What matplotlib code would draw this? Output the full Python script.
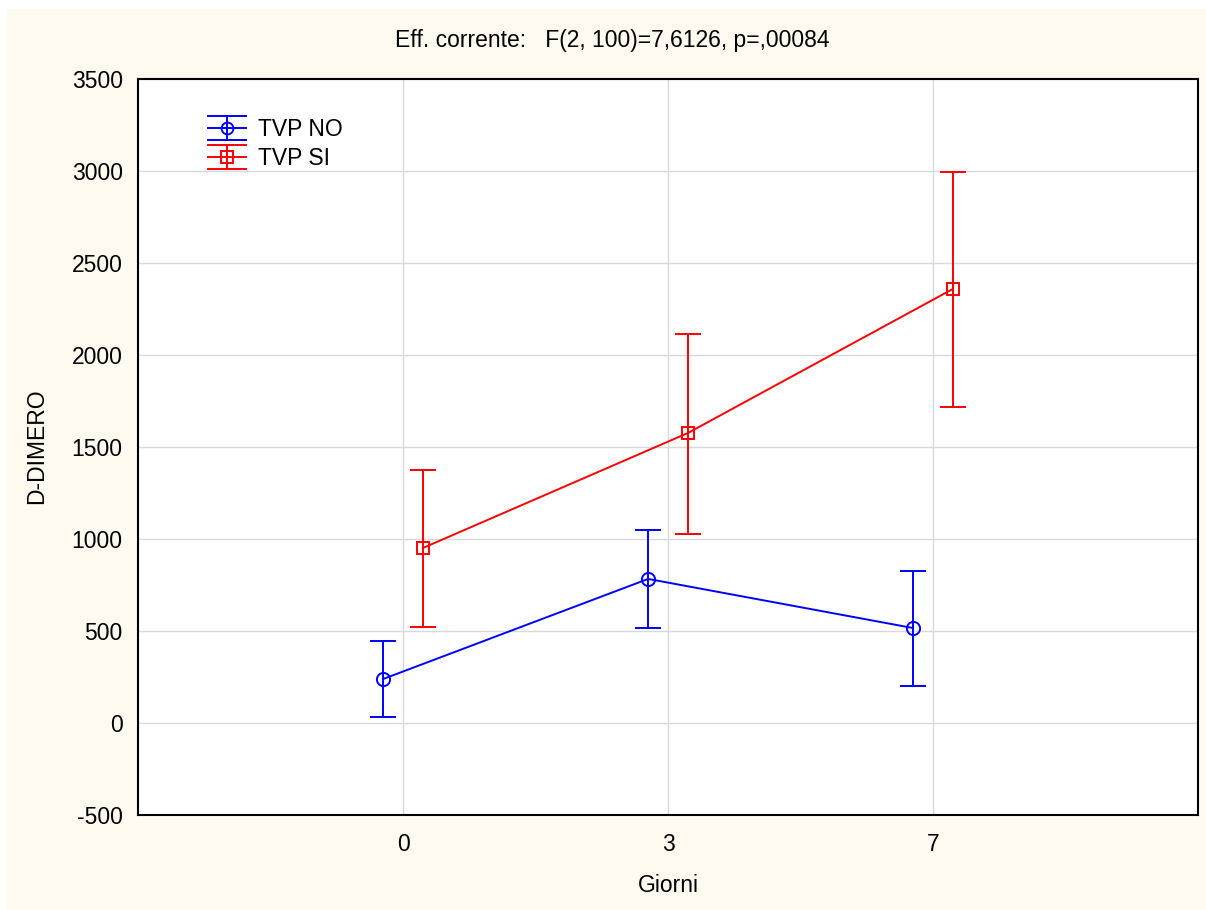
import matplotlib.pyplot as plt
from matplotlib.legend_handler import HandlerBase
from matplotlib.lines import Line2D
from matplotlib.patches import Rectangle

plt.rcParams['font.family'] = ['Liberation Sans', 'DejaVu Sans']
plt.rcParams['axes.unicode_minus'] = False

# --- data ---
giorni = ['0', '3', '7']
no_mean = [239, 783, 516]
no_low = [33, 516, 201]
no_high = [446, 1049, 826]
si_mean = [951, 1576, 2359]
si_low = [522, 1027, 1717]
si_high = [1375, 2114, 2995]

BLUE = '#0000ff'
RED = '#ff0000'
CREAM = '#fffaf0'
FS = 16.5


class ErrHandler(HandlerBase):
    # legend handle: line + marker with error bar and wide caps
    def __init__(self, color, marker):
        super().__init__()
        self.color = color
        self.marker = marker

    def create_artists(self, legend, orig, x0, y0, w, h, fs, trans):
        cy = y0 + h / 2
        d = 12 * 72 / 100
        arts = []
        for dy in (-d, 0, d):
            arts.append(Line2D([x0, x0 + w], [cy + dy, cy + dy], color=self.color, lw=1.4, transform=trans))
        arts.append(Line2D([x0 + w / 2, x0 + w / 2], [cy - d, cy + d], color=self.color, lw=1.4, transform=trans))
        arts.append(Line2D([x0 + w / 2], [cy], marker=self.marker, ms=8.5, mfc='none', mec=self.color, mew=1.4,
                           linestyle='none', transform=trans))
        return arts


fig = plt.figure(figsize=(12.06, 9.10), dpi=100)
fig.patch.set_facecolor('white')
fig.patches.append(Rectangle((7 / 1206, 0), 1, 1 - 9 / 910, transform=fig.transFigure,
                             facecolor=CREAM, edgecolor='none', zorder=-10))
ax = fig.add_axes([138 / 1206, 1 - 815 / 910, 1060 / 1206, 736 / 910])
ax.set_facecolor('white')

pos = [1, 2, 3]
off = 0.075
xn = [p - off for p in pos]
xs = [p + off for p in pos]

ax.errorbar(xn, no_mean,
            yerr=[[m - l for m, l in zip(no_mean, no_low)], [h - m for m, h in zip(no_mean, no_high)]],
            color=BLUE, lw=1.4, elinewidth=1.4, capsize=9.5, capthick=1.4,
            marker='o', ms=9.5, mfc='none', mec=BLUE, mew=1.4, zorder=3)
ax.errorbar(xs, si_mean,
            yerr=[[m - l for m, l in zip(si_mean, si_low)], [h - m for m, h in zip(si_mean, si_high)]],
            color=RED, lw=1.4, elinewidth=1.4, capsize=9.5, capthick=1.4,
            marker='s', ms=9, mfc='none', mec=RED, mew=1.4, zorder=3)

ax.set_xlim(0, 4)
ax.set_ylim(-500, 3500)
ax.set_xticks(pos)
ax.set_xticklabels(giorni)
ax.set_yticks(range(-500, 3501, 500))
ax.tick_params(axis='y', length=0, labelsize=FS, pad=11)
ax.tick_params(axis='x', length=0, labelsize=FS, pad=13)
ax.grid(True, color='#d9d9d9', lw=1)
ax.set_axisbelow(True)
for s in ax.spines.values():
    s.set_linewidth(1.5)
    s.set_color('black')

fig.text(668 / 1206, 1 - 886 / 910, 'Giorni', ha='center', va='center', fontsize=FS)
fig.text(37 / 1206, 1 - 446 / 910, 'D-DIMERO', ha='center', va='center', rotation=90, fontsize=FS)
fig.text(612 / 1206, 1 - 41 / 910, 'Eff. corrente:   F(2, 100)=7,6126, p=,00084',
         ha='center', va='center', fontsize=FS)

h1 = Line2D([], [], color=BLUE)
h2 = Line2D([], [], color=RED)
ax.legend([h1, h2], ['TVP NO', 'TVP SI'],
          handler_map={h1: ErrHandler(BLUE, 'o'), h2: ErrHandler(RED, 's')},
          loc='upper left', bbox_to_anchor=(0.055, 0.963), frameon=False, borderpad=0,
          fontsize=FS, handlelength=1.65, handletextpad=0.55, labelspacing=0.26)

fig.savefig('out.png', dpi=100, facecolor=fig.get_facecolor())
